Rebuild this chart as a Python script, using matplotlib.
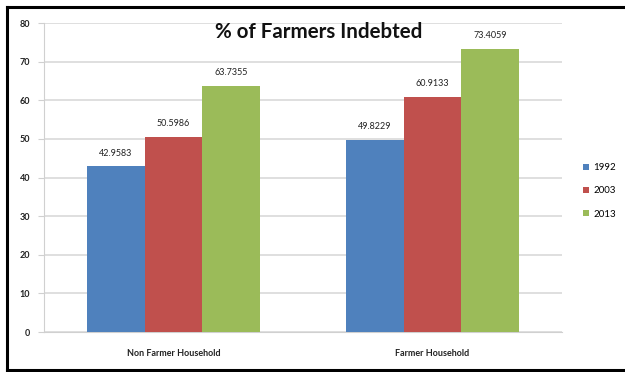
import numpy as np
import matplotlib
matplotlib.use("Agg")
from matplotlib import pyplot as plt
from matplotlib.lines import Line2D

categories = ["Non Farmer Household", "Farmer Household"]
years = ["1992", "2003", "2013"]
values_1992 = [42.9583, 49.8229]
values_2003 = [50.5986, 60.9133]
values_2013 = [63.7355, 73.4059]
value_labels = [["42.9583", "49.8229"], ["50.5986", "60.9133"], ["63.7355", "73.4059"]]

colors = ["#4F81BD", "#C0504D", "#9BBB59"]

plt.rcParams['font.family'] = ['Lato', 'DejaVu Sans']

fig = plt.figure(figsize=(6.25, 3.72), dpi=100)
ax = fig.add_axes([0.0704, 0.1075, 0.829, 0.8305])

x = np.arange(len(categories))
width = 0.222
series = [values_1992, values_2003, values_2013]
for i, (vals, col, yr) in enumerate(zip(series, colors, years)):
    bars = ax.bar(x + (i - 1) * width, vals, width, color=col, label=yr, zorder=3)
    for b, txt in zip(bars, value_labels[i]):
        ax.text(b.get_x() + b.get_width() / 2, b.get_height() + 2.2, txt,
                ha="center", va="bottom", fontsize=6.5, color="#222222")

ax.set_xlim(-0.5, 1.5)
ax.set_ylim(0, 80)
ax.set_yticks(range(0, 81, 10))
ax.set_xticks(x)
ax.set_xticklabels(categories, fontsize=6.5, fontweight="bold", color="#222222")
ax.tick_params(axis="x", length=0, pad=12)
ax.tick_params(axis="y", length=4, color="#d0d0d0", labelsize=6.5, pad=6,
               labelcolor="#222222")
for lab in ax.get_yticklabels():
    lab.set_fontweight("bold")
ax.grid(axis="y", color="#d9d9d9", linewidth=1.2, zorder=0)
for side in ["top", "right"]:
    ax.spines[side].set_visible(False)
ax.spines["left"].set_color("#d0d0d0")
ax.spines["bottom"].set_color("#d0d0d0")

fig.text(0.5096, 0.913, "% of Farmers Indebted", ha="center", va="center",
         fontsize=14.8, fontweight="bold", color="#111111")

ax.legend(loc="center left", bbox_to_anchor=(1.04, 0.4565), frameon=False,
          fontsize=7, handlelength=0.6, handleheight=0.6, labelspacing=1.45,
          handletextpad=0.5, borderaxespad=0, borderpad=0)

# open black frame: left, top and bottom edges only
frame_kw = dict(transform=fig.transFigure, color="black", linewidth=2.2)
fig.lines.append(Line2D([0.011, 0.011], [0.005, 0.98], **frame_kw))
fig.lines.append(Line2D([0.011, 1.0], [0.98, 0.98], **frame_kw))
fig.lines.append(Line2D([0.011, 1.0], [0.005, 0.005], **frame_kw))

fig.savefig("out.png", dpi=100)
